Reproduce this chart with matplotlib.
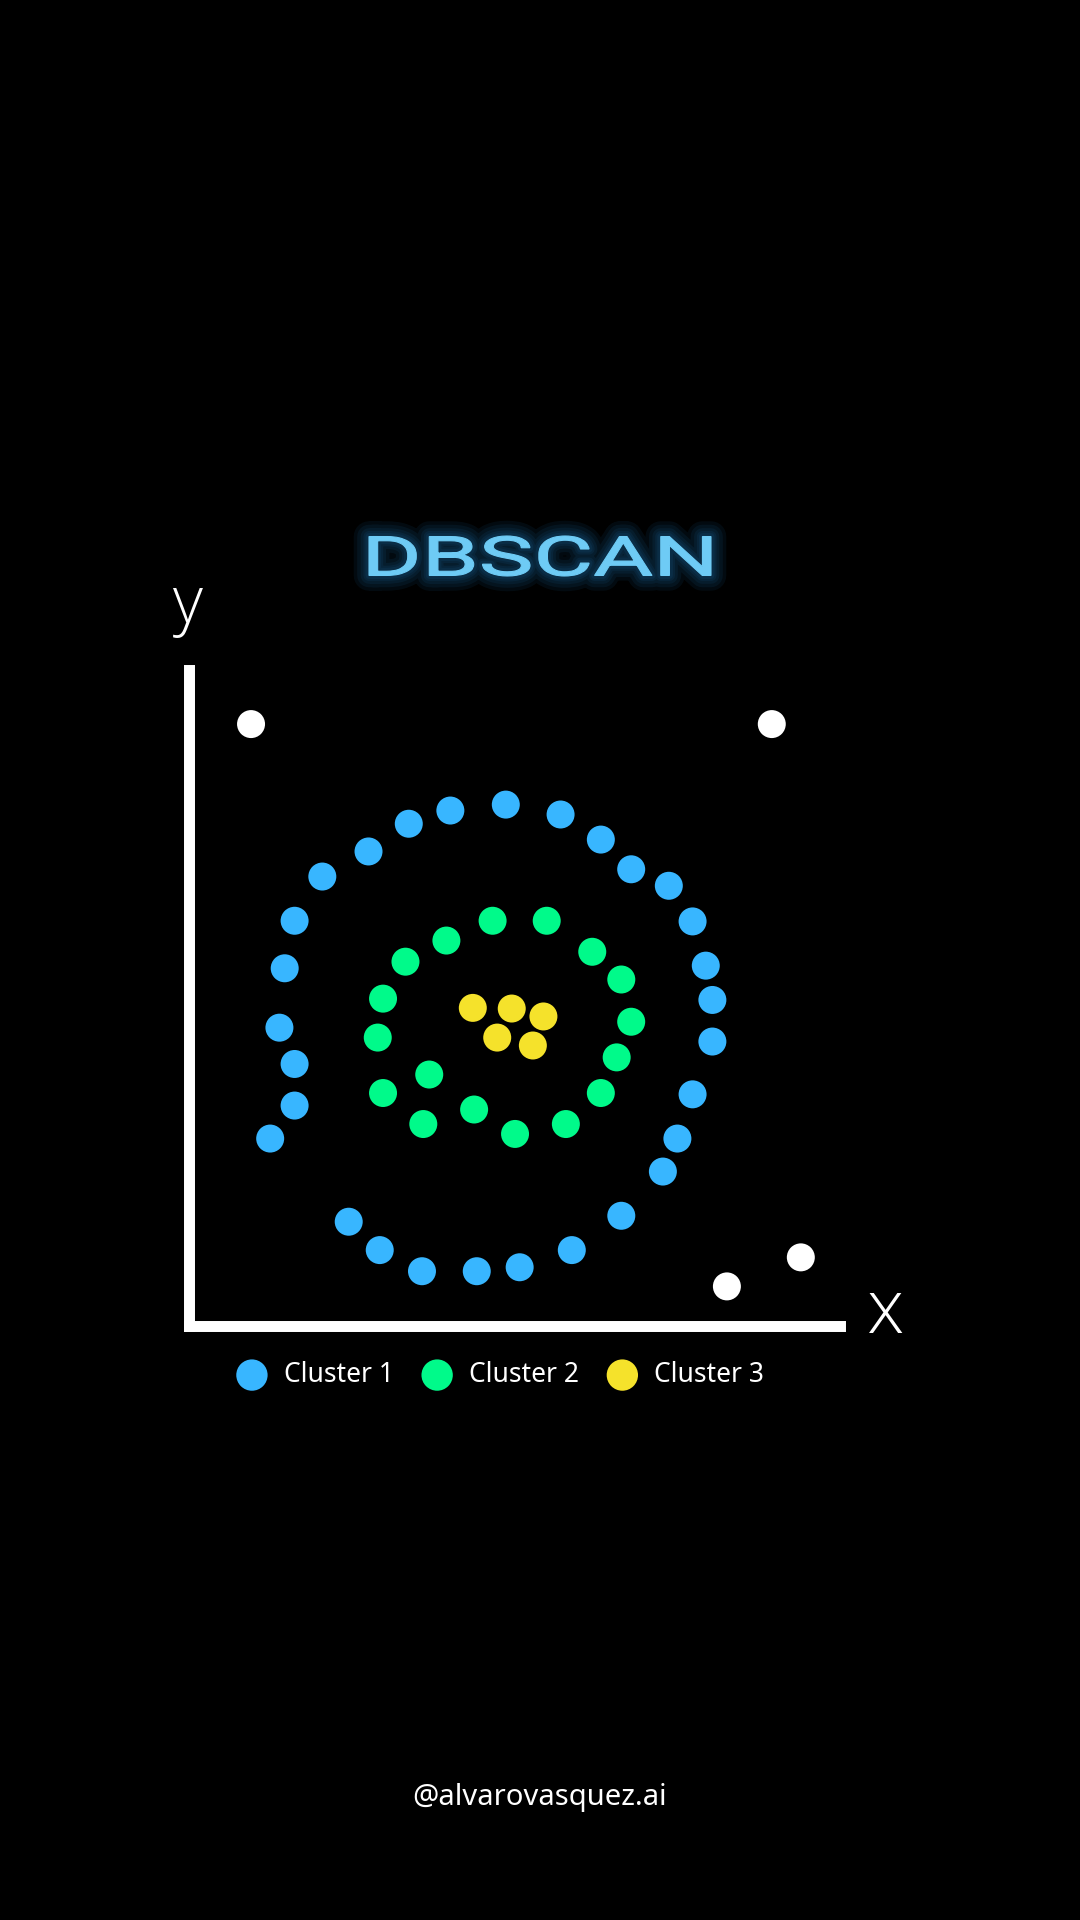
import numpy as np
import matplotlib.pyplot as plt
from matplotlib.textpath import TextPath
from matplotlib.patches import PathPatch
from matplotlib.font_manager import FontProperties
from matplotlib.transforms import Affine2D

# puntos (unidades arbitrarias, eje de 0 a ~10)
cluster1_x = [4.80, 5.63, 6.24, 6.70, 7.27, 7.63, 7.83, 7.93, 7.93, 7.63, 7.40, 7.18, 6.55, 5.80, 5.01,
              4.36, 3.53, 2.89, 2.42, 1.23, 1.60, 1.60, 1.37, 1.45, 1.60, 2.02, 2.72, 3.33, 3.96]
cluster1_y = [7.90, 7.75, 7.37, 6.92, 6.67, 6.13, 5.46, 4.94, 4.31, 3.51, 2.84, 2.34, 1.67, 1.15, 0.89,
              0.83, 0.83, 1.15, 1.58, 2.84, 3.34, 3.97, 4.52, 5.42, 6.14, 6.81, 7.19, 7.61, 7.81]

cluster2_x = [4.60, 5.42, 6.11, 6.55, 6.70, 6.48, 6.24, 5.71, 4.94, 4.32, 3.55, 2.94, 3.64, 2.86, 2.94, 3.28, 3.90]
cluster2_y = [6.14, 6.14, 5.67, 5.25, 4.61, 4.07, 3.53, 3.06, 2.91, 3.28, 3.06, 3.53, 3.81, 4.37, 4.96, 5.52, 5.84]

cluster3_x = [4.30, 4.89, 5.37, 4.67, 5.21]
cluster3_y = [4.82, 4.81, 4.69, 4.37, 4.25]

ruido_x = [0.94, 8.83, 9.27, 8.15]
ruido_y = [9.12, 9.12, 1.04, 0.60]

etiquetas = ['Cluster 1', 'Cluster 2', 'Cluster 3']
colores = ['#38B6FF', '#00FA8A', '#F5E22B']

W, H = 1080, 1920
fig = plt.figure(figsize=(10.8, 19.2), dpi=100, facecolor='black')

# ejes: la linea sobresale medio grosor por el extremo (capstyle projecting)
ax = fig.add_axes([189 / W, 1 - 1326 / H, 650.5 / W, 655.5 / H])
ax.set_facecolor('black')
ax.set_xlim(0, 650.5 / 66)
ax.set_ylim(0, 655.5 / 66)
ax.spines['top'].set_visible(False)
ax.spines['right'].set_visible(False)
for lado in ['left', 'bottom']:
    ax.spines[lado].set_color('white')
    ax.spines[lado].set_linewidth(7.9)
    ax.spines[lado].set_capstyle('projecting')
ax.set_xticks([])
ax.set_yticks([])

tam = 406
datos = [(cluster1_x, cluster1_y), (cluster2_x, cluster2_y), (cluster3_x, cluster3_y)]
for (xs, ys), c, lab in zip(datos, colores, etiquetas):
    ax.scatter(xs, ys, s=tam, color=c, edgecolors='none', label=lab, clip_on=False, zorder=3)
ax.scatter(ruido_x, ruido_y, s=tam, color='white', edgecolors='none', clip_on=False, zorder=3)

leg = ax.legend(loc='center', bbox_to_anchor=(500 / W, 1 - 1375 / H), bbox_transform=fig.transFigure,
                ncol=3, frameon=False, markerscale=1.12, handlelength=1.2,
                handletextpad=0.6, columnspacing=1.05, prop={'family': 'Noto Sans', 'size': 19})
for t in leg.get_texts():
    t.set_color('white')

# etiquetas de los ejes
fig.text(188 / W, 1 - 622 / H, 'y', ha='center', va='baseline', color='white',
         fontsize=47, family='Open Sans', fontweight='light')
fig.text(886 / W, 1 - 1333 / H, 'x', ha='center', va='baseline', color='white',
         fontsize=54, family='Open Sans', fontweight='light')

# titulo con brillo
tp = TextPath((0, 0), 'DBSCAN', size=55, prop=FontProperties(family='Roboto'))
bb = tp.get_extents()
sx = 342 / bb.width
sy = 40 / bb.height
tr = (Affine2D().translate(-bb.x0 - bb.width / 2, -bb.y0 - bb.height / 2)
      .scale(sx, sy).translate(540, H - 556).scale(1 / W, 1 / H))
ruta = tr.transform_path(tp)
for lw in [22, 17, 12, 8, 5]:
    fig.add_artist(PathPatch(ruta, transform=fig.transFigure, facecolor='none',
                             edgecolor='#2A9BE8', linewidth=lw, alpha=0.07, joinstyle='round'))
fig.add_artist(PathPatch(ruta, transform=fig.transFigure, facecolor='#6ECBF5',
                         edgecolor='#6ECBF5', linewidth=0.8))

fig.text(0.5, 1 - 1797 / H, '@alvarovasquez.ai', ha='center', va='center', color='white',
         fontsize=21, family='Noto Sans')

fig.savefig('out.png', dpi=100, facecolor='black')
